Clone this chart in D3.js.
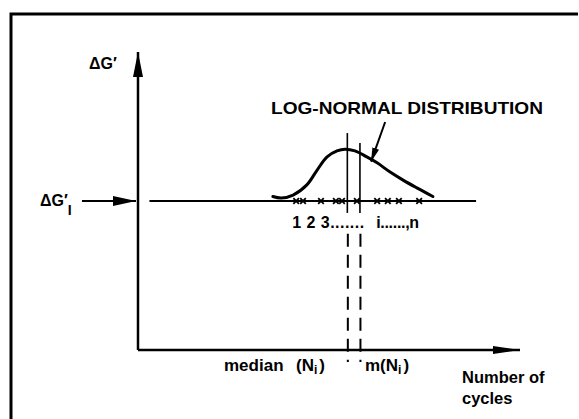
<!DOCTYPE html>
<html>
<head>
<meta charset="utf-8">
<script src="https://cdn.jsdelivr.net/npm/d3@7"></script>
<style>
  body { margin: 0; background: #fff; }
  svg { display: block; }
  text { font-family: 'Liberation Sans', Arial, sans-serif; font-weight: bold; fill: #000; }
</style>
</head>
<body>
<svg width="579" height="419"></svg>
<script>
// values (arbitrary units, 0..100 on both axes)
const levelG = 50
const levelLine = [3, 88.5]
const curveX = [35.3, 37.5, 40.6, 44.2, 46.9, 49.5, 52.1, 54.2, 56.8, 59.9, 62.6, 66.0, 69.4, 73.0, 77.2]
const curveY = [51.5, 51.0, 52.0, 55.4, 60.4, 64.8, 66.8, 67.4, 66.8, 64.8, 62.8, 59.7, 57.0, 54.4, 51.5]
const sampleX = [41.4, 43.2, 47.9, 51.8, 53.4, 57.3, 62.6, 65.4, 68.3, 73.6]
const statNames = ['median', 'mean']
const statX = [54.8, 58.1]
const statTop = [72.8, 69.5]
const solidBottom = 46
const dashRange = [39, -4]
const pointerFrom = [64.7, 76.5]
const pointerTo = [61.0, 63.2]

const svg = d3.select('svg')
const x = d3.scaleLinear().domain([0, 100]).range([138, 520])
const y = d3.scaleLinear().domain([0, 100]).range([350, 52])

const defs = svg.append('defs')
function arrowHead(id, len, wid) {
  defs.append('marker')
    .attr('id', id)
    .attr('markerUnits', 'userSpaceOnUse')
    .attr('viewBox', `0 ${-wid / 2} ${len} ${wid}`)
    .attr('refX', len)
    .attr('refY', 0)
    .attr('markerWidth', len)
    .attr('markerHeight', wid)
    .attr('orient', 'auto')
    .append('path')
    .attr('d', `M0,${-wid / 2}L${len},0L0,${wid / 2}Z`)
    .attr('fill', '#000')
}
arrowHead('ahY', 25, 10)
arrowHead('ahX', 27, 8)
arrowHead('ahG', 23, 10)
arrowHead('ahP', 14, 7)

// frame (only top and left edges survive in the scan)
svg.append('path')
  .attr('d', 'M11,419L11,14L578,14')
  .attr('fill', 'none')
  .attr('stroke', '#000')
  .attr('stroke-width', 3)

// axes
svg.append('line')
  .attr('x1', x(0)).attr('y1', y(0))
  .attr('x2', x(0)).attr('y2', y(100))
  .attr('stroke', '#000').attr('stroke-width', 2.5)
  .attr('marker-end', 'url(#ahY)')
svg.append('line')
  .attr('x1', x(0)).attr('y1', y(0))
  .attr('x2', x(100)).attr('y2', y(0))
  .attr('stroke', '#000').attr('stroke-width', 2.5)
  .attr('marker-end', 'url(#ahX)')

// level arrow and horizontal line
svg.append('line')
  .attr('x1', 82).attr('y1', y(levelG))
  .attr('x2', x(0) - 2).attr('y2', y(levelG))
  .attr('stroke', '#000').attr('stroke-width', 2)
  .attr('marker-end', 'url(#ahG)')
svg.append('line')
  .attr('x1', x(levelLine[0])).attr('y1', y(levelG))
  .attr('x2', x(levelLine[1])).attr('y2', y(levelG))
  .attr('stroke', '#000').attr('stroke-width', 2)

// distribution curve
const curvePts = curveX.map((v, i) => [v, curveY[i]])
svg.append('path')
  .datum(curvePts)
  .attr('fill', 'none')
  .attr('stroke', '#000')
  .attr('stroke-width', 3)
  .attr('stroke-linecap', 'round')
  .attr('d', d3.line().x(d => x(d[0])).y(d => y(d[1])).curve(d3.curveCatmullRom))

// median / mean lines
statX.forEach((sx, i) => {
  svg.append('line')
    .attr('class', 'stat ' + statNames[i])
    .attr('x1', x(sx)).attr('y1', y(statTop[i]))
    .attr('x2', x(sx)).attr('y2', y(solidBottom))
    .attr('stroke', '#000').attr('stroke-width', 1.6)
  svg.append('line')
    .attr('x1', x(sx) + 0.5).attr('y1', y(dashRange[0]))
    .attr('x2', x(sx) + 0.5).attr('y2', y(dashRange[1]))
    .attr('stroke', '#000').attr('stroke-width', 2)
    .attr('stroke-dasharray', '13,8')
})

// sample crosses
svg.selectAll('.cross')
  .data(sampleX)
  .join('path')
  .attr('class', 'cross')
  .attr('d', d => {
    const cx = x(d), cy = y(levelG), r = 2.8
    return `M${cx - r},${cy - r}L${cx + r},${cy + r}M${cx - r},${cy + r}L${cx + r},${cy - r}`
  })
  .attr('stroke', '#000')
  .attr('stroke-width', 1.8)

// pointer arrow to the curve
svg.append('line')
  .attr('x1', x(pointerFrom[0])).attr('y1', y(pointerFrom[1]))
  .attr('x2', x(pointerTo[0])).attr('y2', y(pointerTo[1]))
  .attr('stroke', '#000').attr('stroke-width', 2)
  .attr('marker-end', 'url(#ahP)')

// texts
svg.append('text')
  .attr('x', 271).attr('y', 114)
  .attr('font-size', 17)
  .attr('textLength', 272)
  .attr('lengthAdjust', 'spacingAndGlyphs')
  .text('LOG-NORMAL DISTRIBUTION')

svg.append('text').attr('x', 89).attr('y', 69).attr('font-size', 16).text('ΔG′')

const gLab = svg.append('text').attr('x', 40).attr('y', 206).attr('font-size', 16)
gLab.append('tspan').text('ΔG′')
gLab.append('tspan').attr('dy', 9).attr('font-size', 14).text('I')

svg.append('text')
  .attr('x', x(sampleX[0]) - 4).attr('y', y(levelG) + 27)
  .attr('font-size', 16)
  .attr('textLength', 72)
  .attr('lengthAdjust', 'spacing')
  .text('1 2 3.......')
svg.append('text')
  .attr('x', x(sampleX[6]) - 1).attr('y', y(levelG) + 27)
  .attr('font-size', 16)
  .attr('textLength', 43)
  .attr('lengthAdjust', 'spacing')
  .text('i......,n')

const medLab = svg.append('text').attr('x', 224).attr('y', 371).attr('font-size', 17)
medLab.append('tspan').text('median')
medLab.append('tspan').attr('x', 296).text('(N')
medLab.append('tspan').attr('dy', 3).attr('font-size', 12).text('i')
medLab.append('tspan').attr('dx', 2).attr('dy', -3).text(')')

const mLab = svg.append('text').attr('x', 365).attr('y', 371).attr('font-size', 17)
mLab.append('tspan').text('m(N')
mLab.append('tspan').attr('dy', 3).attr('font-size', 12).text('i')
mLab.append('tspan').attr('dx', 2).attr('dy', -3).text(')')

svg.append('text').attr('x', 462).attr('y', 383).attr('font-size', 16.5).text('Number of')
svg.append('text').attr('x', 462).attr('y', 404).attr('font-size', 16.5).text('cycles')
</script>
</body>
</html>
